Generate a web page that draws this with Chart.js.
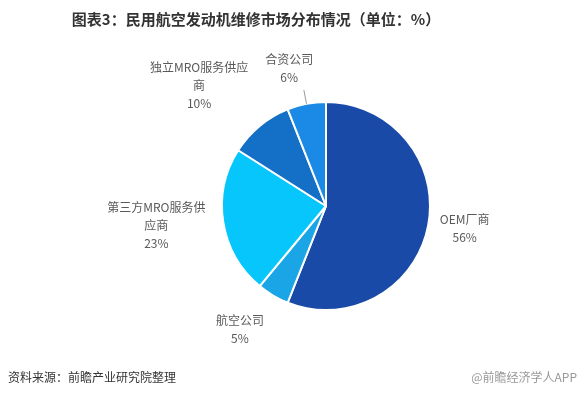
<!DOCTYPE html>
<html>
<head>
<meta charset="utf-8">
<script src="https://cdn.jsdelivr.net/npm/chart.js@4.4.1/dist/chart.umd.min.js"></script>
<style>
  body { margin: 0; background: #fff; }
  #wrap { position: relative; width: 581px; height: 395px; font-family: "Noto Sans CJK SC", "Noto Sans", sans-serif; }
  #title { position: absolute; left: 0; width: 512px; top: 8px; text-align: center; font-size: 15px; font-weight: bold; color: #333; }
  #source { position: absolute; left: 8px; top: 368px; font-size: 12px; color: #333; }
  #mark { position: absolute; right: 4px; top: 368px; font-size: 12px; color: #999; }
  canvas { position: absolute; left: 0; top: 0; }
</style>
</head>
<body>
<div id="wrap">
  <canvas id="pie" width="581" height="395"></canvas>
  <div id="title">图表3：民用航空发动机维修市场分布情况（单位：%）</div>
  <div id="source">资料来源：前瞻产业研究院整理</div>
  <div id="mark">@前瞻经济学人APP</div>
</div>
<script>
// categories (label lines) and shares, clockwise from 12 o'clock
const categories = [
  ['OEM厂商'],
  ['航空公司'],
  ['第三方MRO服务供', '应商'],
  ['独立MRO服务供应', '商'],
  ['合资公司']
];
const values = [56, 5, 23, 10, 6];
const colors = ['#1a4aa8', '#1aa6e6', '#06c6fb', '#1470c6', '#1a8ae6'];

// draws the outside labels next to each slice
const outsideLabels = {
  id: 'outsideLabels',
  afterDatasetsDraw(chart) {
    const ctx = chart.ctx;
    const meta = chart.getDatasetMeta(0);
    ctx.save();
    ctx.font = '12px "Noto Sans CJK SC", sans-serif';
    ctx.fillStyle = '#595959';
    ctx.textBaseline = 'middle';
    ctx.textAlign = 'center';
    const lh = 18;
    meta.data.forEach((arc, i) => {
      const mid = (arc.startAngle + arc.endAngle) / 2;
      const cos = Math.cos(mid), sin = Math.sin(mid);
      const r = arc.outerRadius;
      const ax = arc.x + cos * (r + 18);
      const ay = arc.y + sin * (r + 18);
      const lines = categories[i].concat([values[i] + '%']);
      const w = Math.max(...lines.map(t => ctx.measureText(t).width));
      const h = lines.length * lh;
      let left = cos >= 0 ? ax - 6 : ax - w;
      let top;
      if (sin < -0.5) top = ay - h;
      else if (sin > 0.5) top = ay;
      else top = ay - h / 2;
      if (sin < -0.9) {
        left += 10;
        ctx.strokeStyle = '#999';
        ctx.lineWidth = 1;
        ctx.beginPath();
        ctx.moveTo(arc.x + cos * r, arc.y + sin * r);
        ctx.lineTo(arc.x + cos * (r + 14), arc.y + sin * (r + 14));
        ctx.stroke();
      }
      lines.forEach((t, k) => {
        ctx.fillText(t, left + w / 2, top + lh * k + lh / 2);
      });
    });
    ctx.restore();
  }
};

new Chart(document.getElementById('pie'), {
  type: 'pie',
  data: {
    labels: categories,
    datasets: [{
      data: values,
      backgroundColor: colors,
      borderColor: '#fff',
      borderWidth: 2
    }]
  },
  options: {
    responsive: false,
    animation: false,
    layout: { padding: { left: 221, right: 150, top: 101, bottom: 84 } },
    plugins: { legend: { display: false }, tooltip: { enabled: false } }
  },
  plugins: [outsideLabels]
});
</script>
</body>
</html>
